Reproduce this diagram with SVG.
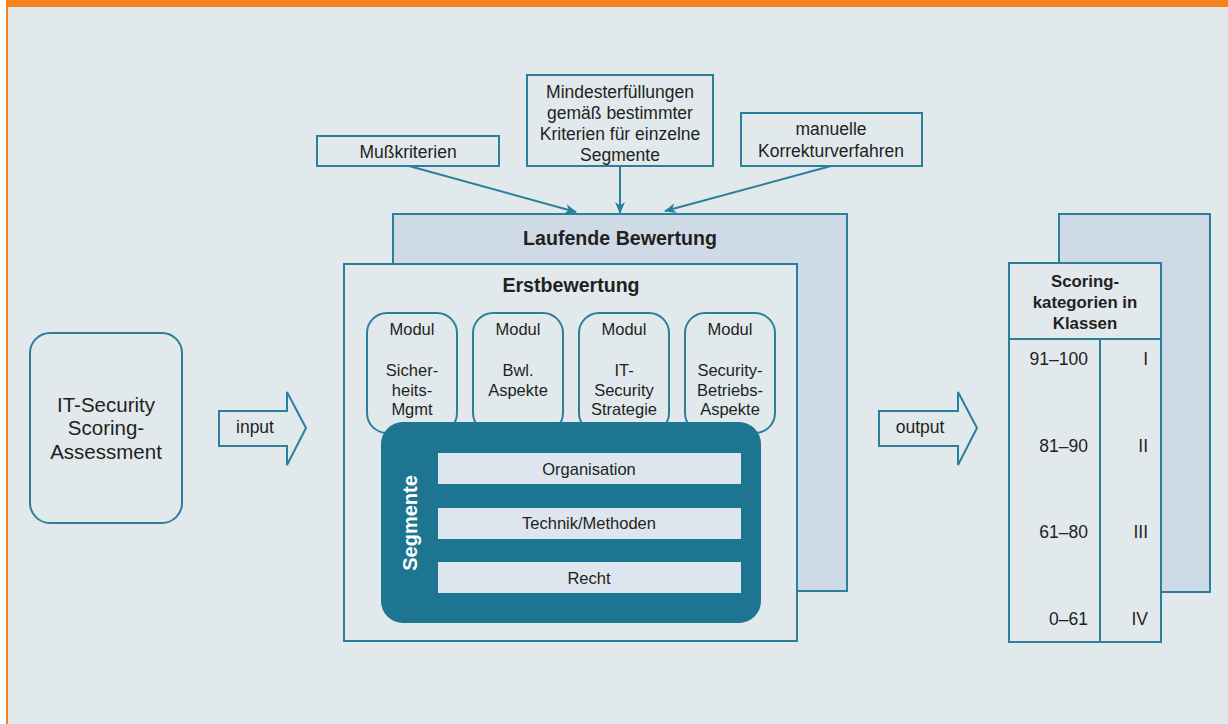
<svg xmlns="http://www.w3.org/2000/svg" width="1228" height="724" viewBox="0 0 1228 724">
<defs>
<style>
.t{font-family:"Liberation Sans",Arial,sans-serif;fill:#231f20;text-anchor:middle}
.b{font-weight:bold}
.box{fill:#e1e9ed;stroke:#2b7f9b;stroke-width:2}
.back{fill:#cedbe6;stroke:#2b7f9b;stroke-width:2}
.bar{fill:#dde6ee}
.con{stroke:#2b7f9b;stroke-width:2;fill:none}
</style>
<marker id="ah" viewBox="0 0 12 10" refX="11" refY="5" markerWidth="12" markerHeight="10" markerUnits="userSpaceOnUse" orient="auto">
<path d="M0,0 L12,5 L0,10 L3.5,5 z" fill="#2b7f9b"/>
</marker>
</defs>
<rect x="0" y="0" width="1228" height="724" fill="#ffffff"/>
<rect x="6" y="0" width="1222" height="724" fill="#e1e9ed"/>
<rect x="6" y="0" width="1222" height="7" fill="#f5821f"/>
<rect x="6" y="0" width="2" height="724" fill="#f5821f"/>

<g id="connectors">
<line class="con" x1="409" y1="166" x2="576" y2="212" marker-end="url(#ah)"/>
<line class="con" x1="620" y1="166" x2="620" y2="213" marker-end="url(#ah)"/>
<line class="con" x1="831" y1="166" x2="665" y2="211" marker-end="url(#ah)"/>
</g>

<g id="node-musskriterien">
<rect class="box" x="317" y="136" width="182" height="30"/>
<text class="t" x="408" y="158" font-size="17.5">Mußkriterien</text>
</g>
<g id="node-mindest">
<rect class="box" x="527" y="75" width="186" height="91"/>
<text class="t" x="620" y="98" font-size="17.5">Mindesterfüllungen</text>
<text class="t" x="620" y="119" font-size="17.5">gemäß bestimmter</text>
<text class="t" x="620" y="140" font-size="17.5">Kriterien für einzelne</text>
<text class="t" x="620" y="161" font-size="17.5">Segmente</text>
</g>
<g id="node-manuell">
<rect class="box" x="741" y="113" width="181" height="53"/>
<text class="t" x="831" y="135" font-size="17.5">manuelle</text>
<text class="t" x="831" y="157" font-size="17.5">Korrekturverfahren</text>
</g>

<g id="node-laufende">
<rect class="back" x="393" y="214" width="454" height="377"/>
<text class="t b" x="620" y="245" font-size="19.6">Laufende Bewertung</text>
</g>
<g id="node-erst">
<rect class="box" x="344" y="264" width="453" height="377"/>
<text class="t b" x="571" y="292" font-size="19.6">Erstbewertung</text>
</g>

<g id="node-modul1">
<rect class="box" x="367" y="313" width="90" height="120" rx="20"/>
<text class="t" x="412" y="335" font-size="16.5">Modul</text>
<text class="t" x="412" y="376" font-size="16.5">Sicher-</text>
<text class="t" x="412" y="396" font-size="16.5">heits-</text>
<text class="t" x="412" y="415" font-size="16.5">Mgmt</text>
</g>
<g id="node-modul2">
<rect class="box" x="473" y="313" width="90" height="120" rx="20"/>
<text class="t" x="518" y="335" font-size="16.5">Modul</text>
<text class="t" x="518" y="376" font-size="16.5">Bwl.</text>
<text class="t" x="518" y="396" font-size="16.5">Aspekte</text>
</g>
<g id="node-modul3">
<rect class="box" x="579" y="313" width="90" height="120" rx="20"/>
<text class="t" x="624" y="335" font-size="16.5">Modul</text>
<text class="t" x="624" y="376" font-size="16.5">IT-</text>
<text class="t" x="624" y="396" font-size="16.5">Security</text>
<text class="t" x="624" y="415" font-size="16.5">Strategie</text>
</g>
<g id="node-modul4">
<rect class="box" x="685" y="313" width="90" height="120" rx="20"/>
<text class="t" x="730" y="335" font-size="16.5">Modul</text>
<text class="t" x="730" y="376" font-size="16.5">Security-</text>
<text class="t" x="730" y="396" font-size="16.5">Betriebs-</text>
<text class="t" x="730" y="415" font-size="16.5">Aspekte</text>
</g>

<g id="node-segmente">
<rect x="381" y="422" width="380" height="201" rx="22" fill="#1e7592"/>
<text class="t b" x="0" y="0" font-size="20" style="fill:#ffffff" transform="translate(417,523) rotate(-90)">Segmente</text>
<rect class="bar" x="438" y="453" width="303" height="31"/>
<text class="t" x="589" y="475" font-size="16.5">Organisation</text>
<rect class="bar" x="438" y="508" width="303" height="31"/>
<text class="t" x="589" y="529" font-size="16.5">Technik/Methoden</text>
<rect class="bar" x="438" y="562" width="303" height="31"/>
<text class="t" x="589" y="584" font-size="16.5">Recht</text>
</g>

<g id="node-assessment">
<rect class="box" x="30" y="333" width="152" height="190" rx="20"/>
<text class="t" x="106" y="412" font-size="20.5">IT-Security</text>
<text class="t" x="106" y="435" font-size="20.5">Scoring-</text>
<text class="t" x="106" y="459" font-size="20.5">Assessment</text>
</g>

<g id="node-input">
<path class="box" d="M219,411 L287,411 L287,392 L306,428 L287,465 L287,446 L219,446 Z"/>
<text class="t" x="255" y="433" font-size="17.5">input</text>
</g>
<g id="node-output">
<path class="box" d="M879,411 L958,411 L958,392 L977,428 L958,465 L958,446 L879,446 Z"/>
<text class="t" x="920" y="433" font-size="17.5">output</text>
</g>

<g id="node-scoring">
<rect class="back" x="1059" y="214" width="151" height="378"/>
<rect class="box" x="1009" y="263" width="152" height="379"/>
<line class="con" x1="1009" y1="339" x2="1161" y2="339"/>
<line class="con" x1="1100" y1="339" x2="1100" y2="642"/>
<text class="t b" x="1085" y="287" font-size="16.8">Scoring-</text>
<text class="t b" x="1085" y="308" font-size="16.8">kategorien in</text>
<text class="t b" x="1085" y="329" font-size="16.8">Klassen</text>
<g font-size="17.5">
<text class="t" x="1088" y="365" style="text-anchor:end">91–100</text>
<text class="t" x="1088" y="452" style="text-anchor:end">81–90</text>
<text class="t" x="1088" y="538" style="text-anchor:end">61–80</text>
<text class="t" x="1088" y="625" style="text-anchor:end">0–61</text>
<text class="t" x="1148" y="365" style="text-anchor:end">I</text>
<text class="t" x="1148" y="452" style="text-anchor:end">II</text>
<text class="t" x="1148" y="538" style="text-anchor:end">III</text>
<text class="t" x="1148" y="625" style="text-anchor:end">IV</text>
</g>
</g>
</svg>
